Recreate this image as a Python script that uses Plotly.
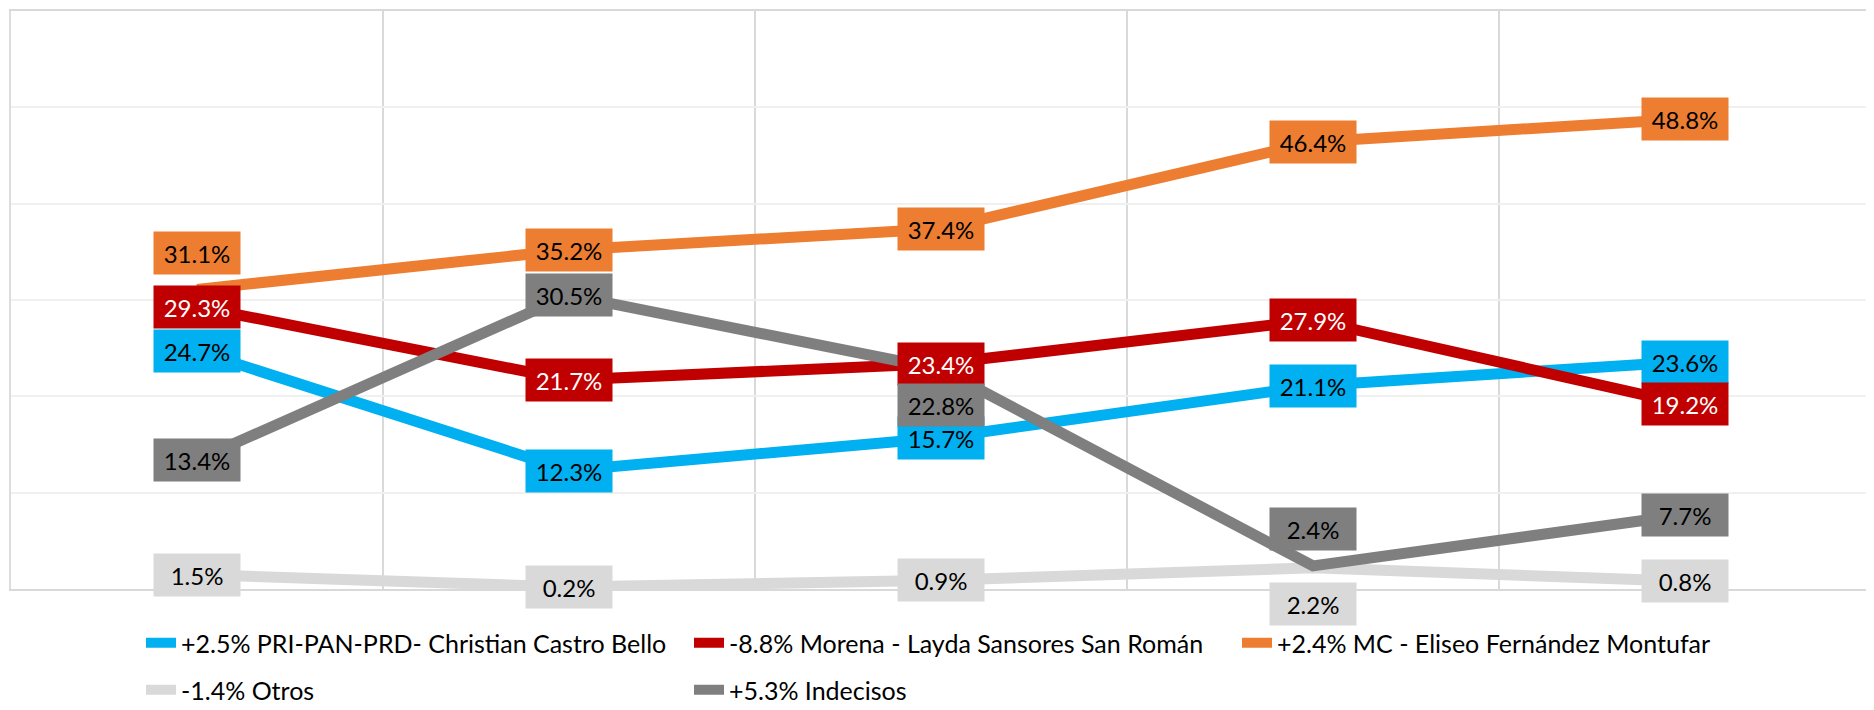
import plotly.graph_objects as go

# five survey rounds (no labels shown on the axis)
rondas = [1, 2, 3, 4, 5]

nombres = [
    "+2.5% PRI-PAN-PRD- Christian Castro Bello",
    "-8.8% Morena - Layda Sansores San Román",
    "+2.4% MC - Eliseo Fernández Montufar",
    "-1.4% Otros",
    "+5.3% Indecisos",
]

pri_pan_prd = [24.7, 12.3, 15.7, 21.1, 23.6]
morena = [29.3, 21.7, 23.4, 27.9, 19.2]
mc = [31.1, 35.2, 37.4, 46.4, 48.8]
otros = [1.5, 0.2, 0.9, 2.2, 0.8]
indecisos = [13.4, 30.5, 22.8, 2.4, 7.7]

series = [pri_pan_prd, morena, mc, otros, indecisos]
colores = ["#00B0F0", "#C00000", "#ED7D31", "#D9D9D9", "#7F7F7F"]
color_texto = ["black", "white", "black", "black", "black"]
leyendas = ["legend", "legend", "legend", "legend2", "legend2"]

# label offsets (px) where the label is not centered on the point
desplazar = {(2, 0): 36, (4, 2): -36, (4, 3): 37, (3, 3): -36}

fuente = "Lato"

fig = go.Figure()
for i, valores in enumerate(series):
    fig.add_trace(go.Scatter(
        x=rondas, y=valores, name=nombres[i], mode="lines",
        line=dict(color=colores[i], width=11),
        legend=leyendas[i],
    ))

for i, valores in enumerate(series):
    for j, v in enumerate(valores):
        fig.add_annotation(
            x=rondas[j], y=v, text="{:.1f}%".format(v), showarrow=False,
            yshift=desplazar.get((i, j), 0),
            bgcolor=colores[i], width=84, height=40,
            font=dict(family=fuente, size=24, color=color_texto[i]),
        )

# the page body adds an 8px margin, so the figure is 8px smaller on each side
W, H = 1866, 702
leg_x = 133 / W

fig.update_layout(
    width=W, height=H,
    margin=dict(l=3, r=3, t=1, b=121),
    plot_bgcolor="white", paper_bgcolor="white",
    showlegend=True,
    legend=dict(orientation="h", xref="container", yref="container",
                x=leg_x, y=1 - 635 / H, yanchor="middle",
                entrywidth=503, font=dict(family=fuente, size=25, color="black")),
    legend2=dict(orientation="h", xref="container", yref="container",
                 x=leg_x, y=1 - 682 / H, yanchor="middle",
                 entrywidth=503, font=dict(family=fuente, size=25, color="black")),
    xaxis=dict(range=[0.5, 5.5], tick0=0.5, dtick=1, showticklabels=False,
               showgrid=True, gridcolor="#D9D9D9", gridwidth=1.5,
               zeroline=False, showline=True, mirror=True,
               linecolor="#D9D9D9", linewidth=2),
    yaxis=dict(range=[0, 60], dtick=10, showticklabels=False,
               showgrid=True, gridcolor="#F0F0F0", gridwidth=2, zeroline=False,
               showline=True, mirror=True, linecolor="#DDDDDD", linewidth=1.5),
)

fig.write_html("out.html")
